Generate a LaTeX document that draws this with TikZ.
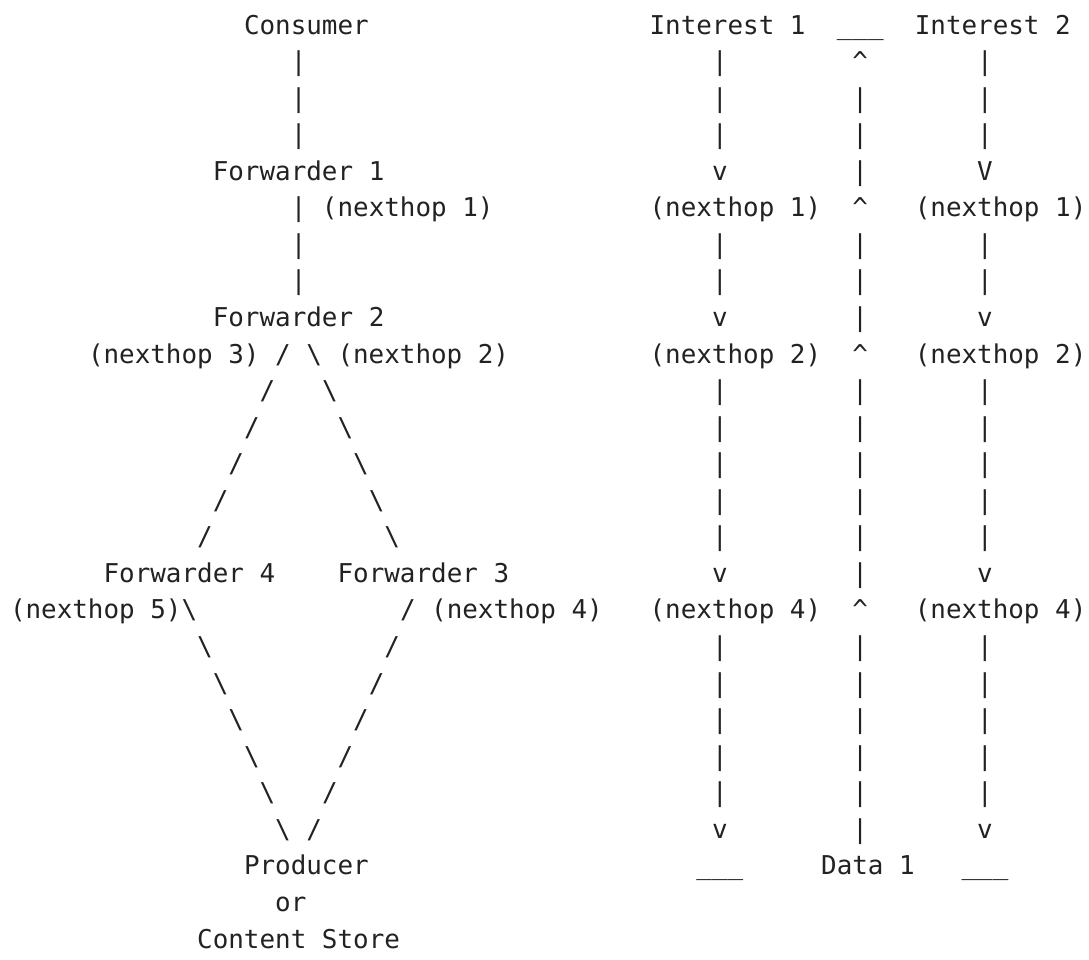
\documentclass[tikz,border=0pt]{standalone}
\usepackage{fontspec}
\newfontfamily\artfont{DejaVu Sans Mono}
\definecolor{ink}{HTML}{222222}
\tikzset{ch/.style={anchor=base west, inner sep=0pt, outer sep=0pt,
  font=\artfont\fontsize{19.43}{20}\selectfont, text=ink}}
% \art{line}{column}{text}: one run of characters on the text grid
\newcommand\art[3]{\node[ch] (L#1c#2) at ({10+#2*15.6},{34+(#1-1)*36.56}) {#3};}
\newcommand\bs{\textbackslash}
\newcommand\up{\textasciicircum}
\begin{document}
\begin{tikzpicture}[x=0.75pt,y=-0.75pt]
\fill[white] (0,0) rectangle (1089,960);
\useasboundingbox (0,0) rectangle (1089,960);
% line 1
\art{1}{15}{Consumer}\art{1}{41}{Interest 1}\art{1}{53}{\_\_\_}\art{1}{58}{Interest 2}
% lines 2-4
\art{2}{18}{|}\art{2}{45}{|}\art{2}{54}{\up}\art{2}{62}{|}
\art{3}{18}{|}\art{3}{45}{|}\art{3}{54}{|}\art{3}{62}{|}
\art{4}{18}{|}\art{4}{45}{|}\art{4}{54}{|}\art{4}{62}{|}
% line 5
\art{5}{13}{Forwarder 1}\art{5}{45}{v}\art{5}{54}{|}\art{5}{62}{V}
% line 6
\art{6}{18}{| (nexthop 1)}\art{6}{41}{(nexthop 1)}\art{6}{54}{\up}\art{6}{58}{(nexthop 1)}
% lines 7-8
\art{7}{18}{|}\art{7}{45}{|}\art{7}{54}{|}\art{7}{62}{|}
\art{8}{18}{|}\art{8}{45}{|}\art{8}{54}{|}\art{8}{62}{|}
% line 9
\art{9}{13}{Forwarder 2}\art{9}{45}{v}\art{9}{54}{|}\art{9}{62}{v}
% line 10
\art{10}{5}{(nexthop 3) / \bs{} (nexthop 2)}\art{10}{41}{(nexthop 2)}\art{10}{54}{\up}\art{10}{58}{(nexthop 2)}
% lines 11-15
\art{11}{16}{/}\art{11}{20}{\bs}\art{11}{45}{|}\art{11}{54}{|}\art{11}{62}{|}
\art{12}{15}{/}\art{12}{21}{\bs}\art{12}{45}{|}\art{12}{54}{|}\art{12}{62}{|}
\art{13}{14}{/}\art{13}{22}{\bs}\art{13}{45}{|}\art{13}{54}{|}\art{13}{62}{|}
\art{14}{13}{/}\art{14}{23}{\bs}\art{14}{45}{|}\art{14}{54}{|}\art{14}{62}{|}
\art{15}{12}{/}\art{15}{24}{\bs}\art{15}{45}{|}\art{15}{54}{|}\art{15}{62}{|}
% line 16
\art{16}{6}{Forwarder 4}\art{16}{21}{Forwarder 3}\art{16}{45}{v}\art{16}{54}{|}\art{16}{62}{v}
% line 17
\art{17}{0}{(nexthop 5)\bs}\art{17}{25}{/ (nexthop 4)}\art{17}{41}{(nexthop 4)}\art{17}{54}{\up}\art{17}{58}{(nexthop 4)}
% lines 18-22
\art{18}{12}{\bs}\art{18}{24}{/}\art{18}{45}{|}\art{18}{54}{|}\art{18}{62}{|}
\art{19}{13}{\bs}\art{19}{23}{/}\art{19}{45}{|}\art{19}{54}{|}\art{19}{62}{|}
\art{20}{14}{\bs}\art{20}{22}{/}\art{20}{45}{|}\art{20}{54}{|}\art{20}{62}{|}
\art{21}{15}{\bs}\art{21}{21}{/}\art{21}{45}{|}\art{21}{54}{|}\art{21}{62}{|}
\art{22}{16}{\bs}\art{22}{20}{/}\art{22}{45}{|}\art{22}{54}{|}\art{22}{62}{|}
% line 23
\art{23}{17}{\bs{} /}\art{23}{45}{v}\art{23}{54}{|}\art{23}{62}{v}
% line 24
\art{24}{15}{Producer}\art{24}{44}{\_\_\_}\art{24}{52}{Data 1}\art{24}{61}{\_\_\_}
% lines 25-26
\art{25}{17}{or}
\art{26}{12}{Content Store}
\end{tikzpicture}
\end{document}
